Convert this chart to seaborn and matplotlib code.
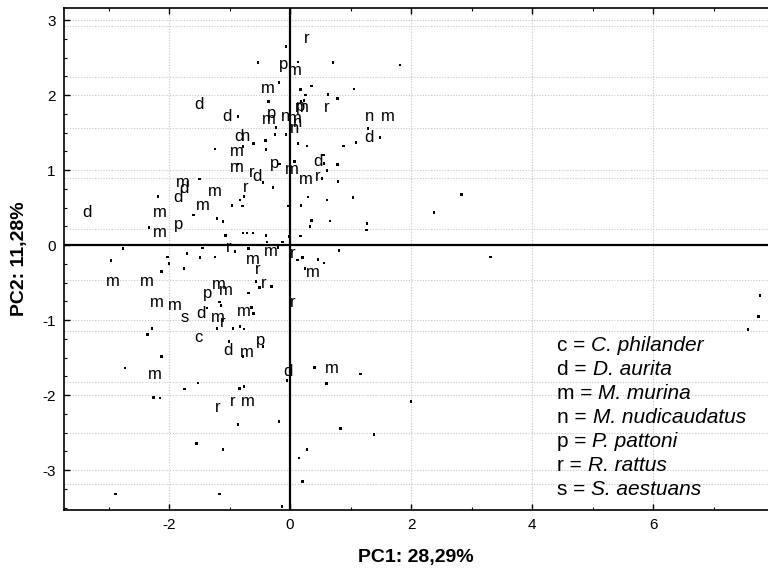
import matplotlib
matplotlib.use("Agg")
import matplotlib.pyplot as plt
import seaborn as sns
import pandas as pd

# plain points (PC1, PC2)
dot_pc1 = [-0.07, -0.53, 0.13, 0.71, 1.82, -0.18, 0.17, 0.35, 1.06, 0.26, 0.63, 0.78, 0.23, 0.18,
           -0.36, -0.86, -0.23, -0.07, -0.25, 0.13, 0.28, 0.88, 1.09, 1.29, 1.49, -0.60, -0.41, -0.40,
           -1.24, -0.78, -0.86, -0.17, 0.07, 0.55, 0.56, 0.78, -0.45, 0.61, 0.53, 0.79, -1.50, -0.28,
           -0.76, -0.83, -0.96, -0.79, -1.60, -2.18, -2.33, -0.03, 0.18, 0.30, 0.61, 1.04, 2.83, 2.38,
           -1.21, -1.11, 0.35, 0.33, 0.66, 1.27, 1.26, -1.07, -0.78, -0.71, -0.61, -0.40, -0.38, -0.12,
           -0.02, 0.17,
           -2.76, -2.96, -2.03, -2.00, -2.12, -1.70, -1.75, -1.45, -1.49, -1.24, -0.91, -0.69, -0.20,
           0.12, 0.21, 0.46, 0.56, 0.81, 0.25, 3.31, -0.69, -0.56, -0.50, -0.31, -1.17, -1.14, -1.37,
           -0.64, -0.60, -2.28, -2.36, -1.21, -0.94, -0.83, -0.76, -1.01, -0.45, -0.78, -2.12, -2.73,
           -0.05, 0.40, 1.16, 0.60, -1.52, -1.74, -2.26, -2.15, -0.84, -0.76, -0.86, -0.18, 2.00, 0.83,
           1.39, -1.55, -1.11, 0.28, 0.15, 0.21, -2.88, -1.17, -0.13, 7.77, 7.74, 7.57]
dot_pc2 = [2.65, 2.43, 2.44, 2.43, 2.40, 2.17, 2.07, 2.12, 2.08, 2.00, 2.01, 1.95, 1.93, 1.92,
           1.91, 1.71, 1.57, 1.47, 1.47, 1.35, 1.32, 1.32, 1.37, 1.55, 1.43, 1.35, 1.39, 1.27,
           1.28, 1.31, 1.08, 1.08, 1.11, 1.20, 1.09, 1.07, 0.83, 0.99, 0.89, 0.85, 0.88, 0.77,
           0.65, 0.60, 0.53, 0.52, 0.40, 0.65, 0.23, 0.52, 0.53, 0.64, 0.60, 0.63, 0.67, 0.43,
           0.35, 0.31, 0.33, 0.25, 0.32, 0.29, 0.20, 0.13, 0.16, 0.16, 0.16, 0.13, 0.04, 0.04,
           0.11, 0.12,
           -0.05, -0.21, -0.16, -0.25, -0.35, -0.11, -0.31, -0.04, -0.17, -0.16, -0.09, -0.05, -0.03,
           -0.20, -0.17, -0.19, -0.24, -0.07, -0.31, -0.16, -0.64, -0.49, -0.57, -0.55, -0.76, -0.81, -0.84,
           -0.83, -0.91, -1.11, -1.19, -1.11, -1.11, -1.09, -1.12, -1.29, -1.35, -1.49, -1.49, -1.64,
           -1.81, -1.63, -1.72, -1.85, -1.84, -1.92, -2.03, -2.04, -1.91, -1.89, -2.39, -2.35, -2.09, -2.45,
           -2.53, -2.65, -2.73, -2.73, -2.84, -3.15, -3.32, -3.32, -3.49, -0.67, -0.95, -1.13]

# labelled specimens
lab_code = ["r", "p", "m", "m", "d", "d", "p", "m", "n", "m", "m", "p", "n", "n", "r", "n", "m", "d",
            "d", "n", "m", "m", "p", "m", "d", "r", "d", "m", "r", "m", "r", "m", "d", "d", "m", "d",
            "m", "p", "m",
            "r", "m", "m", "r", "r", "m", "r", "m", "m", "p", "m", "m", "r", "m", "m", "s", "d", "m",
            "r", "m", "c", "d", "m", "p", "m", "d", "m", "r", "m", "r"]
lab_pc1 = [0.28, -0.10, 0.08, -0.36, -1.50, -1.04, -0.31, -0.35, -0.07, 0.08, 0.20, 0.17, 0.07, 0.13,
           0.61, 1.32, 1.62, 1.31, -0.84, -0.74, -0.88, -0.88, -0.25, 0.03, 0.46, -0.63, -0.55, 0.26,
           0.46, -1.24, -0.74, -1.77, -1.75, -1.85, -1.44, -3.36, -2.15, -1.85, -2.15,
           -1.02, -0.31, -0.61, 0.05, -0.53, 0.38, -0.43, -2.93, -2.36, -1.36, -1.17, -1.06, 0.05,
           -2.20, -1.90, -1.74, -1.47, -1.19, -1.11, -0.76, -1.52, -1.02, -0.71, -0.48, -2.23, -0.03,
           0.69, -0.94, -0.69, -1.19]
lab_pc2 = [2.76, 2.41, 2.33, 2.09, 1.87, 1.71, 1.76, 1.68, 1.71, 1.69, 1.84, 1.85, 1.56, 1.64,
           1.83, 1.71, 1.71, 1.44, 1.45, 1.45, 1.25, 1.04, 1.09, 1.01, 1.11, 0.97, 0.91, 0.87,
           0.92, 0.72, 0.77, 0.83, 0.76, 0.63, 0.53, 0.43, 0.44, 0.28, 0.17,
           -0.03, -0.08, -0.19, -0.11, -0.33, -0.37, -0.51, -0.49, -0.49, -0.64, -0.53, -0.60, -0.76,
           -0.77, -0.80, -0.96, -0.91, -0.96, -1.03, -0.88, -1.23, -1.40, -1.43, -1.27, -1.73, -1.69,
           -1.64, -2.09, -2.09, -2.17]

legend_codes = ["c", "d", "m", "n", "p", "r", "s"]
legend_names = ["C. philander", "D. aurita", "M. murina", "M. nudicaudatus",
                "P. pattoni", "R. rattus", "S. aestuans"]

x_ticks = [-2, 0, 2, 4, 6]
y_ticks = [-3, -2, -1, 0, 1, 2, 3]
# second (offset) set of dotted horizontal grid lines in the original
y_grid_extra = [2.92, 2.24, 1.56, 0.89, 0.21, -0.47, -1.15, -1.83, -2.51, -3.18]

sns.set_style("white")
plt.rcParams["font.family"] = ["Liberation Sans", "DejaVu Sans"]
plt.rcParams["axes.unicode_minus"] = False
plt.rcParams["text.color"] = "black"
plt.rcParams["axes.labelcolor"] = "black"
plt.rcParams["xtick.color"] = "black"
plt.rcParams["ytick.color"] = "black"

dots = pd.DataFrame({"PC1": dot_pc1, "PC2": dot_pc2})

fig = plt.figure(figsize=(7.68, 5.74), dpi=100)
ax = fig.add_axes([64 / 768, 64 / 574, 704 / 768, 502 / 574])

for gx in x_ticks:
    if gx != 0:
        ax.axvline(gx, color="#c8c8c8", lw=0.8, ls=(0, (1, 1.5)), zorder=0)
for gy in y_ticks + y_grid_extra:
    if gy != 0:
        ax.axhline(gy, color="#c8c8c8", lw=0.8, ls=(0, (1, 1.5)), zorder=0)

ax.axhline(0, color="black", lw=1.6, zorder=1)
ax.axvline(0, color="black", lw=1.6, zorder=1)

sns.scatterplot(data=dots, x="PC1", y="PC2", ax=ax, marker="s", s=3.5,
                color="black", edgecolor="none", linewidth=0, zorder=3)

for code, px, py in zip(lab_code, lab_pc1, lab_pc2):
    ax.text(px, py, code, fontsize=12, ha="center", va="center", zorder=4)

# species key: plain code, italic name
for i, (code, name) in enumerate(zip(legend_codes, legend_names)):
    t = ax.text(0.700, 0.328 - i * 0.0478, code + " =", transform=ax.transAxes,
                fontsize=15, ha="left", va="center")
    ax.annotate(name, xy=(1, 0.5), xycoords=t, xytext=(4.5, 0),
                textcoords="offset points", fontsize=15, style="italic",
                ha="left", va="center")

ax.set_xlim(-3.736, 7.90)
ax.set_ylim(-3.533, 3.16)
ax.set_xticks(x_ticks)
ax.set_xticklabels([str(t) for t in x_ticks])
ax.set_yticks(y_ticks)
ax.set_yticklabels([str(t) for t in y_ticks])
ax.set_xticks([-3, -1, 1, 3, 5, 7], minor=True)
ax.set_yticks([v / 4 for v in range(-14, 13)], minor=True)
ax.tick_params(which="major", direction="in", length=4, width=1, top=True, bottom=True,
               left=True, labelsize=11, pad=6)
ax.tick_params(which="minor", direction="in", length=2.5, width=0.8, top=True, bottom=True,
               left=True)

for side in ["top", "bottom", "left"]:
    ax.spines[side].set_color("black")
    ax.spines[side].set_linewidth(1.2)
ax.spines["right"].set_visible(False)

ax.set_xlabel("PC1: 28,29%", fontsize=14, fontweight="bold", labelpad=12)
ax.set_ylabel("PC2: 11,28%", fontsize=14, fontweight="bold", labelpad=10)

fig.savefig("out.png", dpi=100)
